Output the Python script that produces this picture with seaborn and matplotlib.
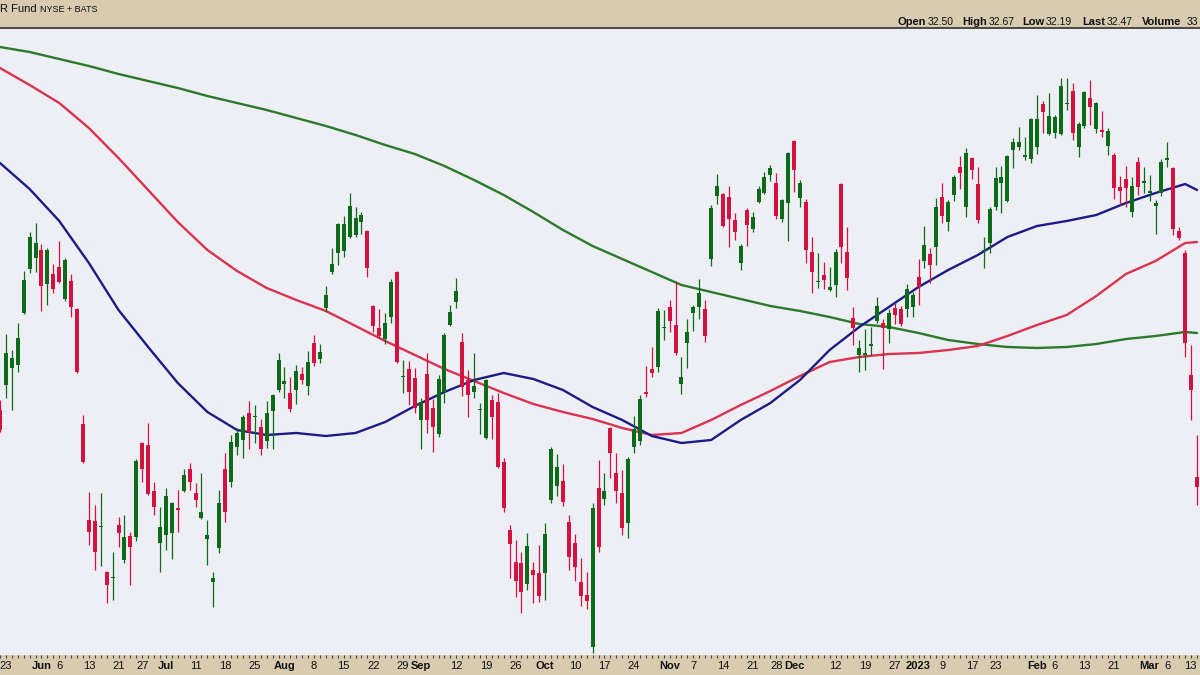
import numpy as np
import pandas as pd
import matplotlib
matplotlib.use('Agg')
import matplotlib.pyplot as plt
import seaborn as sns
from matplotlib.lines import Line2D

# daily candles, one per trading day from 2022-05-20 to 2023-03-13
opens = [33.80, 34.30, 34.64, 34.70, 35.74, 36.62, 36.84, 37.00, 36.32, 36.52,
         36.66, 36.02, 36.38, 35.82, 33.52, 31.60, 31.58, 31.46, 30.56, 30.44,
         31.50, 30.80, 31.28, 31.26, 33.14, 33.10, 32.18, 31.14, 31.30, 31.34,
         31.84, 32.18, 32.62, 32.14, 31.64, 31.22, 30.36, 31.04, 32.62, 32.36,
         33.06, 33.20, 33.74, 33.66, 33.46, 33.18, 33.78, 34.20, 34.32, 34.14,
         34.20, 34.52, 34.28, 35.14, 34.82, 35.84, 36.56, 36.94, 36.98, 37.26,
         37.30, 37.56, 37.38, 35.88, 35.44, 35.22, 35.66, 36.56, 34.46, 34.62,
         34.44, 33.60, 34.52, 33.84, 33.32, 34.16, 35.50, 35.96, 35.16, 34.40,
         34.16, 33.80, 33.24, 34.00, 33.96, 32.76, 31.40, 30.76, 30.74, 30.32,
         30.60, 30.54, 30.54, 32.00, 32.28, 32.38, 31.56, 31.14, 30.36, 30.10,
         29.06, 32.24, 32.02, 33.44, 32.54, 32.14, 31.54, 33.06, 33.18, 34.16,
         34.62, 34.66, 35.44, 35.86, 35.50, 34.32, 35.14, 35.74, 35.86, 35.82,
         36.82, 38.08, 38.12, 38.06, 37.60, 36.74, 37.80, 37.42, 37.96, 38.14,
         38.50, 38.34, 37.62, 37.94, 39.18, 38.04, 37.96, 36.96, 36.36, 36.50,
         36.20, 36.30, 38.32, 36.96, 35.64, 34.90, 34.90, 35.08, 35.58, 35.54,
         35.42, 35.84, 35.82, 35.82, 35.86, 36.46, 36.78, 36.92, 37.06, 38.06,
         37.56, 38.10, 38.66, 37.86, 38.84, 38.32, 36.98, 37.14, 37.86, 38.34,
         37.98, 39.00, 39.06, 38.86, 38.82, 39.06, 39.92, 39.32, 39.34, 39.32,
         39.92, 40.18, 39.06, 39.48, 40.04, 39.42, 39.40, 39.08, 38.90, 38.26,
         38.42, 37.76, 38.76, 38.34, 38.14, 37.88, 38.14, 38.80, 38.64, 37.38,
         36.94, 34.50, 32.46]
highs = [34.00, 35.32, 35.00, 35.54, 36.58, 37.36, 37.54, 37.12, 37.04, 36.72,
         37.18, 36.84, 36.52, 35.84, 33.70, 32.16, 31.90, 32.14, 30.58, 30.96,
         31.66, 31.70, 31.36, 32.82, 33.16, 33.54, 32.36, 31.86, 32.24, 31.96,
         32.20, 32.62, 32.74, 32.34, 32.54, 31.60, 30.56, 32.20, 32.94, 33.30,
         33.44, 33.70, 33.98, 33.90, 33.62, 33.98, 34.12, 34.94, 34.66, 34.46,
         34.70, 34.66, 34.98, 35.30, 35.12, 36.28, 37.04, 37.54, 37.68, 38.14,
         37.86, 37.76, 37.40, 35.90, 35.82, 35.74, 36.42, 36.58, 34.80, 34.78,
         34.64, 34.04, 34.94, 34.02, 34.50, 35.34, 35.90, 36.44, 35.34, 34.60,
         34.94, 33.94, 34.42, 34.10, 34.14, 32.84, 31.50, 31.20, 30.96, 31.34,
         30.76, 31.10, 31.54, 33.06, 32.92, 32.72, 31.70, 31.32, 30.84, 30.56,
         31.94, 32.80, 32.54, 33.46, 32.94, 32.60, 32.86, 33.68, 34.10, 34.68,
         35.06, 35.84, 35.80, 36.00, 36.38, 34.86, 35.62, 35.90, 36.42, 36.00,
         37.90, 38.52, 38.14, 38.28, 37.74, 37.12, 37.84, 37.76, 38.28, 38.56,
         38.70, 38.54, 38.02, 38.96, 39.20, 38.40, 38.02, 37.26, 36.94, 36.76,
         36.66, 37.02, 38.34, 37.46, 35.86, 35.20, 35.42, 35.46, 36.06, 35.62,
         35.82, 35.94, 35.88, 36.32, 36.16, 36.82, 37.48, 37.04, 38.04, 38.34,
         38.00, 38.50, 38.88, 39.04, 38.86, 38.66, 37.26, 37.86, 38.66, 38.68,
         38.90, 39.24, 39.46, 39.26, 39.64, 40.10, 39.98, 40.14, 39.70, 40.44,
         40.44, 40.34, 39.56, 40.18, 40.40, 39.96, 39.78, 39.44, 38.94, 38.48,
         38.68, 38.46, 38.86, 38.66, 38.50, 38.00, 38.82, 39.16, 38.66, 37.46,
         37.00, 35.10, 33.30]
lows = [33.36, 34.04, 33.80, 34.56, 35.72, 36.54, 36.56, 35.78, 35.90, 36.14,
        36.34, 35.98, 35.66, 34.54, 32.74, 31.10, 30.60, 30.68, 29.94, 30.00,
        31.06, 30.74, 30.30, 31.18, 32.36, 32.10, 31.70, 30.56, 31.00, 30.82,
        31.36, 32.16, 32.20, 31.86, 31.62, 30.70, 29.86, 30.94, 31.56, 32.26,
        32.90, 32.84, 33.02, 33.14, 32.90, 33.04, 33.02, 34.16, 34.04, 33.76,
        33.92, 34.32, 34.10, 34.68, 34.74, 35.76, 36.52, 36.70, 36.86, 37.24,
        37.26, 37.32, 36.46, 35.36, 35.24, 35.12, 35.54, 34.74, 34.14, 33.90,
        33.74, 33.02, 33.34, 32.96, 33.26, 33.94, 35.48, 35.84, 34.08, 33.66,
        34.04, 33.32, 33.22, 33.22, 32.64, 31.76, 30.44, 30.06, 29.74, 30.20,
        29.94, 29.96, 30.00, 31.94, 32.08, 31.88, 30.60, 30.38, 29.88, 29.82,
        28.94, 30.96, 31.90, 32.44, 31.94, 31.30, 31.24, 32.94, 33.10, 34.06,
        34.46, 34.56, 35.20, 35.36, 34.90, 34.12, 34.64, 35.38, 35.62, 35.16,
        36.68, 37.92, 37.46, 37.06, 37.20, 36.60, 37.08, 37.36, 37.94, 38.12,
        38.38, 37.62, 37.56, 37.18, 38.16, 37.86, 36.74, 36.14, 36.24, 36.22,
        36.18, 36.06, 36.74, 36.20, 35.10, 34.56, 34.60, 34.90, 35.54, 34.62,
        35.14, 35.52, 35.48, 35.66, 35.66, 35.90, 36.64, 36.34, 36.70, 37.54,
        37.38, 37.98, 38.22, 37.66, 38.42, 37.54, 36.64, 36.94, 37.80, 37.74,
        37.96, 38.64, 39.00, 38.80, 38.74, 38.92, 39.34, 39.30, 39.24, 39.30,
        39.80, 39.20, 38.86, 39.44, 39.50, 39.34, 39.26, 38.90, 38.02, 37.90,
        37.86, 37.66, 38.10, 38.14, 37.98, 37.32, 38.08, 38.66, 37.30, 37.20,
        34.86, 33.60, 31.90]
closes = [33.40, 34.94, 34.84, 35.24, 36.40, 37.26, 37.14, 36.28, 37.00, 36.22,
          36.36, 36.80, 35.86, 34.56, 32.76, 31.36, 30.96, 31.48, 30.30, 30.46,
          31.34, 31.26, 31.06, 32.78, 32.62, 32.12, 31.86, 31.46, 32.08, 31.94,
          31.80, 32.50, 32.36, 32.00, 31.76, 31.30, 30.44, 31.94, 31.76, 33.16,
          33.34, 33.66, 33.36, 33.68, 33.02, 33.74, 34.10, 34.80, 34.38, 33.82,
          34.58, 34.40, 34.76, 34.74, 34.96, 36.10, 36.72, 37.52, 37.52, 37.88,
          37.64, 37.70, 36.64, 35.48, 35.28, 35.54, 36.36, 34.76, 34.48, 34.16,
          33.84, 33.96, 33.60, 33.46, 34.42, 35.30, 35.76, 36.18, 34.26, 34.10,
          34.28, 33.82, 34.40, 33.66, 32.66, 31.84, 31.12, 30.38, 30.16, 31.08,
          30.50, 30.08, 31.32, 33.02, 32.66, 31.96, 30.86, 30.66, 30.08, 29.98,
          31.84, 31.06, 32.18, 32.94, 32.18, 31.44, 32.82, 33.42, 34.02, 34.12,
          34.54, 35.78, 35.46, 35.58, 34.94, 34.46, 35.36, 35.86, 36.14, 35.28,
          37.84, 38.28, 37.48, 37.62, 37.36, 37.08, 37.50, 37.66, 38.22, 38.46,
          38.64, 37.68, 38.00, 38.94, 38.60, 38.34, 37.00, 36.56, 36.38, 36.40,
          36.26, 36.96, 37.06, 36.44, 35.44, 35.04, 34.94, 35.12, 35.88, 35.44,
          35.74, 35.70, 35.52, 36.22, 36.10, 36.26, 37.10, 36.70, 37.86, 37.68,
          37.96, 38.46, 38.54, 38.94, 38.60, 37.60, 37.00, 37.82, 38.44, 38.46,
          38.88, 39.16, 39.16, 38.90, 39.62, 39.62, 39.76, 39.68, 39.66, 40.28,
          39.94, 39.34, 39.52, 40.16, 39.86, 39.94, 39.36, 39.38, 38.24, 38.18,
          38.24, 38.28, 38.26, 38.38, 38.18, 37.94, 38.76, 38.84, 37.42, 37.24,
          35.14, 34.20, 32.26]

# moving averages read every 5 sessions
ma_idx = list(range(0, 201, 5)) + [202]
sma50 = [38.74, 38.22, 37.58, 36.74, 35.80, 35.06, 34.34, 33.76, 33.40, 33.30,
         33.34, 33.28, 33.34, 33.56, 33.88, 34.16, 34.40, 34.54, 34.42, 34.20,
         33.86, 33.60, 33.28, 33.14, 33.20, 33.60, 33.94, 34.40, 35.00, 35.46,
         35.86, 36.26, 36.60, 36.90, 37.26, 37.48, 37.58, 37.70, 37.94, 38.14,
         38.32, 38.20]
sma100 = [40.64, 40.30, 39.94, 39.44, 38.84, 38.20, 37.56, 37.00, 36.58, 36.24,
          36.00, 35.78, 35.48, 35.18, 34.90, 34.62, 34.38, 34.14, 33.92, 33.76,
          33.62, 33.44, 33.30, 33.34, 33.60, 33.90, 34.18, 34.48, 34.76, 34.86,
          34.92, 34.94, 35.00, 35.08, 35.28, 35.50, 35.70, 36.08, 36.52, 36.78,
          37.14, 37.16]
sma200 = [41.06, 40.96, 40.82, 40.68, 40.52, 40.38, 40.24, 40.08, 39.94, 39.80,
          39.64, 39.48, 39.30, 39.10, 38.92, 38.68, 38.40, 38.10, 37.76, 37.40,
          37.08, 36.82, 36.56, 36.30, 36.16, 36.02, 35.88, 35.78, 35.66, 35.52,
          35.46, 35.34, 35.20, 35.12, 35.06, 35.04, 35.06, 35.12, 35.22, 35.28,
          35.36, 35.34]

holidays = ['2022-05-30', '2022-06-20', '2022-07-04', '2022-09-05', '2022-11-24',
            '2022-12-26', '2023-01-02', '2023-01-16', '2023-02-20']
tick_dates = ['2022-05-23', '2022-06-01', '2022-06-06', '2022-06-13', '2022-06-21',
              '2022-06-27', '2022-07-01', '2022-07-11', '2022-07-18', '2022-07-25',
              '2022-08-01', '2022-08-08', '2022-08-15', '2022-08-22', '2022-08-29',
              '2022-09-01', '2022-09-12', '2022-09-19', '2022-09-26', '2022-10-03',
              '2022-10-10', '2022-10-17', '2022-10-24', '2022-11-01', '2022-11-07',
              '2022-11-14', '2022-11-21', '2022-11-28', '2022-12-01', '2022-12-12',
              '2022-12-19', '2022-12-27', '2023-01-03', '2023-01-09', '2023-01-17',
              '2023-01-23', '2023-02-01', '2023-02-06', '2023-02-13', '2023-02-21',
              '2023-03-01', '2023-03-06', '2023-03-13']
tick_text = ['23', 'Jun', '6', '13', '21', '27', 'Jul', '11', '18', '25',
             'Aug', '8', '15', '22', '29', 'Sep', '12', '19', '26', 'Oct',
             '10', '17', '24', 'Nov', '7', '14', '21', '28', 'Dec', '12',
             '19', '27', '2023', '9', '17', '23', 'Feb', '6', '13', '21',
             'Mar', '6', '13']
bold_text = ['Jun', 'Jul', 'Aug', 'Sep', 'Oct', 'Nov', 'Dec', '2023', 'Feb', 'Mar']

# trading calendar
days = pd.bdate_range('2022-05-20', '2023-03-13', freq='C', holidays=holidays)
df = pd.DataFrame({'open': opens, 'high': highs, 'low': lows, 'close': closes})
df['x'] = np.arange(len(df))
df['up'] = df['close'] >= df['open']

UP = '#0c6a18'
DOWN = '#d4123f'
TAN = '#d8cbb0'

sns.set_theme(style='white')
plt.rcParams['font.family'] = ['Liberation Sans', 'DejaVu Sans']

fig = plt.figure(figsize=(12, 6.75), dpi=100, facecolor=TAN)
ax = fig.add_axes([0, 20 / 675, 1, 627 / 675])
ax.set_facecolor('#eeeff5')

# moving averages
sns.lineplot(x=ma_idx, y=sma200, ax=ax, color='#2b7a2b', lw=1.7, legend=False)
sns.lineplot(x=ma_idx, y=sma100, ax=ax, color='#d9334f', lw=1.7, legend=False)
sns.lineplot(x=ma_idx, y=sma50, ax=ax, color='#1c1c86', lw=1.7, legend=False)
for ln in ax.get_lines():
    ln.set_solid_joinstyle('round')

# candles
colors = np.where(df['up'], UP, DOWN)
ax.vlines(df['x'], df['low'], df['high'], colors=colors, lw=0.9, zorder=3)
body_lo = df[['open', 'close']].min(axis=1)
body_h = (df['close'] - df['open']).abs().clip(lower=0.03)
ax.bar(df['x'], body_h, bottom=body_lo, width=0.68, color=colors, linewidth=0, zorder=4)

ax.set_xlim(0.34, 202.5)
ax.set_ylim(28.9, 41.44)
ax.set_yticks([])
for s in ax.spines.values():
    s.set_visible(False)

pos = days.get_indexer(pd.to_datetime(tick_dates))
ax.set_xticks(pos)
ax.set_xticklabels(tick_text)
ax.set_xticks(np.arange(len(days)), minor=True)
ax.tick_params(axis='x', which='both', direction='out', length=2.5, width=0.8,
               color='#444444', pad=2, labelsize=8, labelcolor='#111111', bottom=True)
labels = ax.get_xticklabels()
for lbl, t in zip(labels, tick_text):
    if t in bold_text:
        lbl.set_fontweight('bold')
labels[-1].set_horizontalalignment('right')

# header
fig.add_artist(Line2D([0, 1], [1 - 28 / 675, 1 - 28 / 675], transform=fig.transFigure,
                      color='#4a4a4a', lw=1.4))
fig.text(0, 1 - 9 / 675, 'R Fund', fontsize=8, va='center', ha='left', color='#111111')
fig.text(40 / 1200, 1 - 9 / 675, 'NYSE + BATS', fontsize=6.5, va='center', ha='left', color='#111111')
head = [('Open', True, 898), ('32.50', False, 928), ('High', True, 962), ('32.67', False, 989),
        ('Low', True, 1022), ('32.19', False, 1046), ('Last', True, 1082), ('32.47', False, 1107),
        ('Volume', True, 1142), ('33', False, 1187)]
for txt, b, px in head:
    fig.text(px / 1200, 1 - 22 / 675, txt, fontsize=8 if b else 7.5,
             fontweight='bold' if b else 'normal', va='center', ha='left', color='#111111')

fig.savefig('out.png', dpi=100, facecolor=TAN)
